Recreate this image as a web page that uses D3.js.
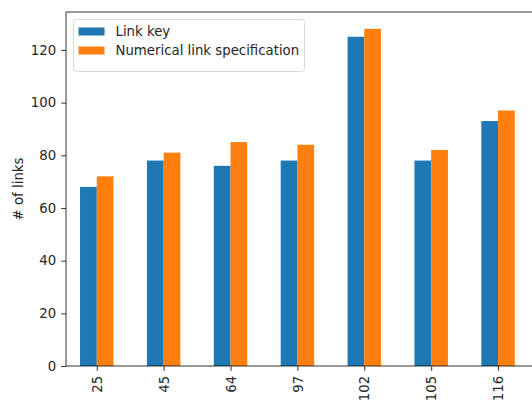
<!DOCTYPE html>
<html>
<head>
<meta charset="utf-8">
<script src="https://cdn.jsdelivr.net/npm/d3@7/dist/d3.min.js"></script>
<style>
  html, body { margin: 0; padding: 0; background: #fff; }
  svg { display: block; font-family: "DejaVu Sans", sans-serif; }
</style>
</head>
<body>
<svg id="chart" width="532" height="401"></svg>
<script>
// Link counts per item
const categories = ["25", "45", "64", "97", "102", "105", "116"];
const linkKey = [68, 78, 76, 78, 125, 78, 93];
const numericalSpec = [72, 81, 85, 84, 128, 82, 97];
const seriesNames = ["Link key", "Numerical link specification"];
const seriesColors = ["#1f77b4", "#ff7f0e"];
const yTicks = [0, 20, 40, 60, 80, 100, 120];

const svg = d3.select("#chart");
const plot = { left: 66, top: 12, bottom: 366 };

// x positions: category index -> pixel (axes extend past the right edge)
const x = d3.scaleLinear().domain([-0.46, 6.5]).range([plot.left, 531.5]);
const y = d3.scaleLinear().domain([0, 134.4]).range([plot.bottom, plot.top]);
const barW = (x(1) - x(0)) * 0.25;

const series = [linkKey, numericalSpec];

// bars
series.forEach((vals, s) => {
  svg.append("g").selectAll("rect")
    .data(vals)
    .join("rect")
    .attr("x", (d, i) => x(i) + (s === 0 ? -barW : 0))
    .attr("y", d => y(d))
    .attr("width", barW)
    .attr("height", d => y(0) - y(d))
    .attr("fill", seriesColors[s]);
});

// y axis
const yAxis = d3.axisLeft(y).tickValues(yTicks).tickSize(4.9).tickPadding(4.9);
const gy = svg.append("g").attr("transform", `translate(${plot.left},0)`).call(yAxis);
gy.select(".domain").remove();
gy.selectAll("line").attr("stroke", "#000").attr("stroke-width", 0.8);
gy.selectAll("text").attr("font-size", "13.3px").attr("fill", "#262626")
  .attr("font-family", "DejaVu Sans, sans-serif");

// x axis
const xAxis = d3.axisBottom(x).tickValues(d3.range(categories.length))
  .tickFormat(i => categories[i]).tickSize(4.9).tickPadding(4.9);
const gx = svg.append("g").attr("transform", `translate(0,${plot.bottom})`).call(xAxis);
gx.select(".domain").remove();
gx.selectAll("line").attr("stroke", "#000").attr("stroke-width", 0.8);
gx.selectAll("text")
  .attr("font-size", "13.3px").attr("fill", "#262626")
  .attr("font-family", "DejaVu Sans, sans-serif")
  .attr("transform", "rotate(-90)")
  .attr("text-anchor", "end")
  .attr("x", -9.8)
  .attr("y", 0)
  .attr("dy", "0.35em");

// spines
svg.append("line").attr("x1", plot.left).attr("x2", plot.left)
  .attr("y1", plot.top).attr("y2", plot.bottom)
  .attr("stroke", "#000").attr("stroke-width", 0.8);
svg.append("line").attr("x1", plot.left).attr("x2", 540)
  .attr("y1", plot.bottom).attr("y2", plot.bottom)
  .attr("stroke", "#000").attr("stroke-width", 0.8);
svg.append("line").attr("x1", plot.left).attr("x2", 540)
  .attr("y1", plot.top).attr("y2", plot.top)
  .attr("stroke", "#000").attr("stroke-width", 0.8);

// y label
svg.append("text")
  .attr("transform", `translate(23,${(plot.top + plot.bottom) / 2}) rotate(-90)`)
  .attr("text-anchor", "middle")
  .attr("font-size", "13.3px").attr("fill", "#262626")
  .text("# of links");

// legend
const lg = svg.append("g").attr("transform", "translate(73.5,19.5)");
lg.append("rect").attr("width", 231).attr("height", 52).attr("rx", 3)
  .attr("fill", "#fff").attr("fill-opacity", 0.8)
  .attr("stroke", "#d9d9d9").attr("stroke-width", 1);
seriesNames.forEach((name, i) => {
  const row = lg.append("g").attr("transform", `translate(0,${8 + i * 19})`);
  row.append("rect").attr("x", 5).attr("y", 0).attr("width", 26).attr("height", 8)
    .attr("fill", seriesColors[i]);
  row.append("text").attr("x", 42).attr("y", 4).attr("dy", "0.35em")
    .attr("font-size", "13.3px").attr("fill", "#262626")
    .text(name);
});
</script>
</body>
</html>
